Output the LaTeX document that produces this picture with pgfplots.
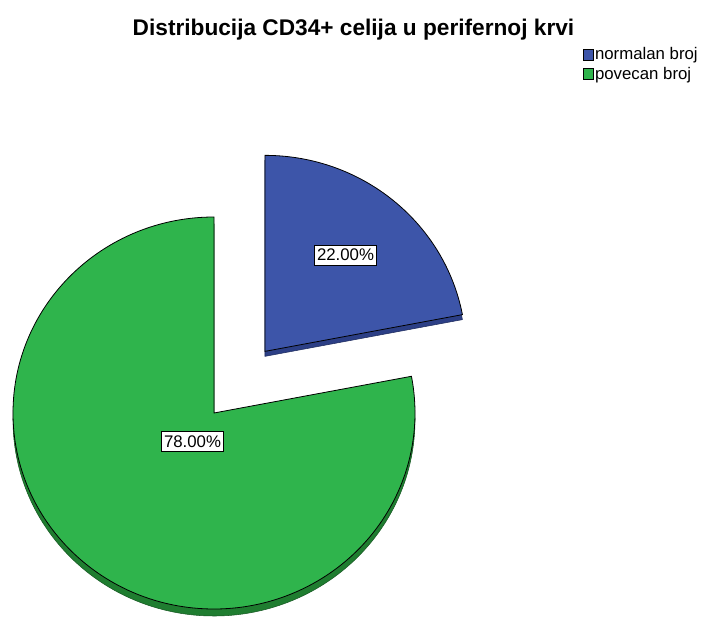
\documentclass[border=0pt]{standalone}
\usepackage{fontspec}
\setmainfont{Liberation Sans}
\usepackage{pgfplots}
\usepackage{pgfplotstable}
\pgfplotsset{compat=1.18}
\definecolor{cBlue}{HTML}{3D55A9}
\definecolor{cBlueRim}{HTML}{2C3F86}
\definecolor{cGreen}{HTML}{2FB44C}
\definecolor{cGreenRim}{HTML}{1F7D30}

% shares in percent, in drawing order
\pgfplotstableread{
share label
22 {normalan broj}
78 {povecan broj}
}\piedata

\begin{document}
\begin{tikzpicture}[
  pielabel/.style={draw=black, fill=white, line width=0.6pt, inner xsep=1.6pt,
                   inner ysep=3pt, font=\fontsize{12.6}{14}\selectfont},
]
\pgfplotstablegetelem{0}{share}\of\piedata \let\shareA\pgfplotsretval
\pgfplotstablegetelem{1}{share}\of\piedata \let\shareB\pgfplotsretval
\pgfmathsetmacro{\angA}{90-3.6*\shareA}
\pgfmathsetmacro{\angB}{\angA+360}
\pgfmathsetmacro{\angMid}{90-1.8*\shareA}
\pgfmathsetmacro{\offx}{80*cos(\angMid)}
\pgfmathsetmacro{\offy}{80*sin(\angMid)}

% one axis unit = one pixel of the reference; radii 201 x 196 px
\begin{axis}[
  hide axis, x=0.75pt, y=0.75pt,
  xmin=0, xmax=705, ymin=0, ymax=617,
  clip=false,
  legend style={at={(0.826,0.926)}, anchor=north west, draw=none, fill=none,
                font=\fontsize{12.6}{14}\selectfont, inner sep=0pt, row sep=1.6pt,
                nodes={inner sep=1.2pt}},
  legend cell align=left,
  legend image code/.code={\draw[#1] (0pt,-4.1pt) rectangle (7.5pt,4.1pt);},
]
\addlegendimage{fill=cBlue, draw=black, line width=0.6pt}
\addlegendentry{normalan broj}
\addlegendimage{fill=cGreen, draw=black, line width=0.6pt}
\addlegendentry{povecan broj}

% green slice: rim then top face
\filldraw[fill=cGreenRim, draw=cGreenRim!70!black, line width=0.4pt]
  (axis cs:214,197) -- ++(90:150.75pt and 147pt)
  arc[start angle=90, end angle=\angB, x radius=150.75pt, y radius=147pt] -- cycle;
\filldraw[fill=cGreen, draw=black, line width=0.6pt]
  (axis cs:214,204) -- ++(90:150.75pt and 147pt)
  arc[start angle=90, end angle=\angB, x radius=150.75pt, y radius=147pt] -- cycle;

% blue slice, pulled out along its bisector
\filldraw[fill=cBlueRim, draw=cBlueRim!70!black, line width=0.4pt]
  (axis cs:{214+\offx},{199+\offy}) -- ++(\angA:150.75pt and 147pt)
  arc[start angle=\angA, end angle=90, x radius=150.75pt, y radius=147pt] -- cycle;
\filldraw[fill=cBlue, draw=black, line width=0.6pt]
  (axis cs:{214+\offx},{204+\offy}) -- ++(\angA:150.75pt and 147pt)
  arc[start angle=\angA, end angle=90, x radius=150.75pt, y radius=147pt] -- cycle;

\node[pielabel] at (axis cs:345.5,362)
  {\pgfmathprintnumber[fixed, fixed zerofill, precision=2, assume math mode=true]{\shareA}\%};
\node[pielabel] at (axis cs:192.5,175.5)
  {\pgfmathprintnumber[fixed, fixed zerofill, precision=2, assume math mode=true]{\shareB}\%};

\node[font=\bfseries\fontsize{17}{20}\selectfont] at (axis cs:353.5,587)
  {Distribucija CD34+ celija u perifernoj krvi};
\end{axis}
\pgfresetboundingbox
\path[use as bounding box] (0,0) rectangle (528.75pt,462.75pt);
\end{tikzpicture}
\end{document}
